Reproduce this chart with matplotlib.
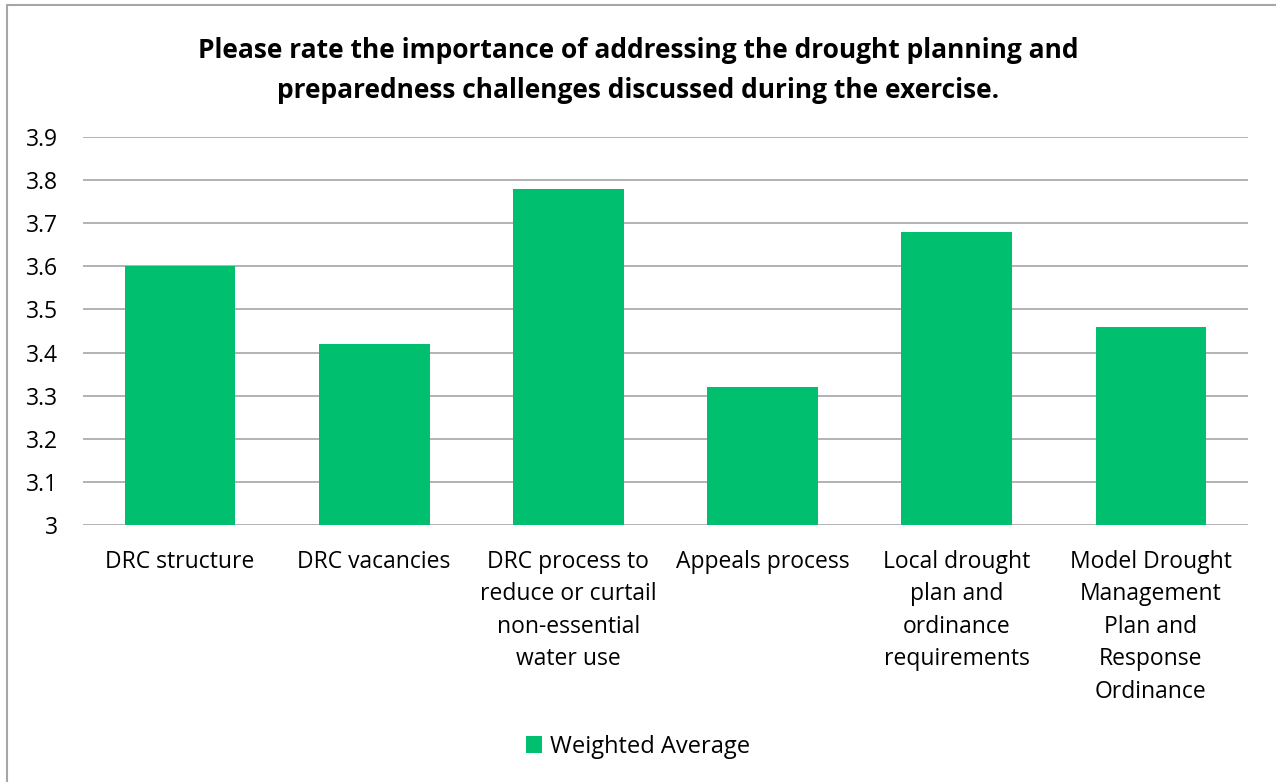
import matplotlib.pyplot as plt
from matplotlib.patches import Rectangle

# chart data
categories = [
    "DRC structure",
    "DRC vacancies",
    "DRC process to\nreduce or curtail\nnon-essential\nwater use",
    "Appeals process",
    "Local drought\nplan and\nordinance\nrequirements",
    "Model Drought\nManagement\nPlan and\nResponse\nOrdinance",
]
weighted_avg = [3.60, 3.42, 3.78, 3.32, 3.68, 3.46]
yticks = [3, 3.1, 3.2, 3.3, 3.4, 3.5, 3.6, 3.7, 3.8, 3.9]
ytick_labels = ["3", "3.1", "3.2", "3.3", "3.4", "3.5", "3.6", "3.7", "3.8", "3.9"]

plt.rcParams['font.family'] = ['Open Sans', 'DejaVu Sans']

fig = plt.figure(figsize=(12.76, 7.82), dpi=100)
ax = fig.add_axes([0.065, 0.3286, 0.913, 0.4962])

x = range(len(categories))
ax.bar(x, weighted_avg, width=0.57, color="#00BF6F", label="Weighted Average", zorder=3)

ax.set_ylim(3, 3.9)
ax.set_xlim(-0.5, len(categories) - 0.5)
ax.set_yticks(yticks)
ax.set_yticklabels(ytick_labels, fontsize=16.5)
ax.set_xticks(list(x))
ax.set_xticklabels(categories, fontsize=16.5, linespacing=1.47, va="top")
ax.tick_params(axis="both", length=0, colors="black")
ax.tick_params(axis="y", pad=18)
ax.tick_params(axis="x", pad=18)
ax.yaxis.grid(True, color="#A6A6A6", linewidth=1.2, zorder=0)
for s in ax.spines.values():
    s.set_visible(False)

fig.text(0.5, 0.910,
         "Please rate the importance of addressing the drought planning and\n"
         "preparedness challenges discussed during the exercise.",
         ha="center", va="center", fontsize=19, fontweight="bold", linespacing=1.65)

ax.legend(loc="center", bbox_to_anchor=(0.5, 0.045), bbox_transform=fig.transFigure,
          frameon=False, fontsize=17, handlelength=0.7, handleheight=0.7,
          handletextpad=0.35)

# outer chart border
fig.patches.append(Rectangle((7 / 1276, -0.1), 1.2, 1 - 5 / 782 + 0.1,
                             transform=fig.transFigure, fill=False,
                             edgecolor="#A6A6A6", linewidth=1.5))

fig.savefig("out.png", dpi=100)
